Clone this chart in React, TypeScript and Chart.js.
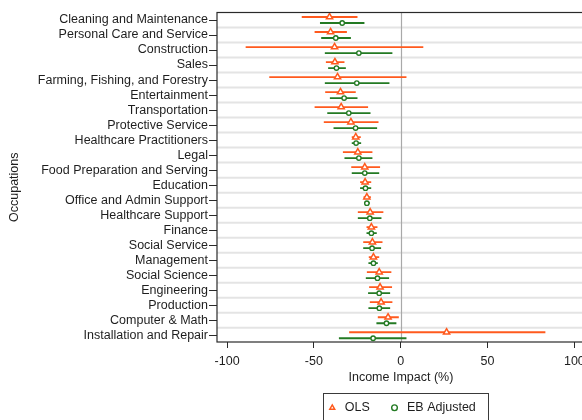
import { useEffect, useRef } from 'react';
import { Chart, registerables } from 'chart.js';

Chart.register(...registerables);

const categories = [
  'Cleaning and Maintenance',
  'Personal Care and Service',
  'Construction',
  'Sales',
  'Farming, Fishing, and Forestry',
  'Entertainment',
  'Transportation',
  'Protective Service',
  'Healthcare Practitioners',
  'Legal',
  'Food Preparation and Serving',
  'Education',
  'Office and Admin Support',
  'Healthcare Support',
  'Finance',
  'Social Service',
  'Management',
  'Social Science',
  'Engineering',
  'Production',
  'Computer & Math',
  'Installation and Repair',
];

const olsEst = [-41, -40.4, -38.1, -37.9, -36.4, -34.7, -34.3, -28.7, -25.9, -24.7, -20.7, -20.5, -19.5, -17.6, -16.9, -16.3, -15.7, -12.4, -11.9, -11.3, -7.3, 26.4];
const olsLow = [-57, -49.6, -89.3, -43.1, -75.7, -43.5, -49.6, -44.3, -28.2, -33.3, -28.5, -23.4, -21.4, -24.7, -19.7, -21.6, -18.4, -19.5, -18.2, -17.8, -13.2, -29.7];
const olsHigh = [-24.9, -31, 13, -32.4, 3.3, -25.9, -18.8, -12.8, -23, -16.3, -11.9, -17, -17.2, -10, -13.4, -10.5, -12.4, -5.4, -5, -4.8, -1.1, 83.3];

const ebEst = [-33.7, -37.4, -24.1, -37, -25.3, -32.6, -29.9, -26, -25.7, -24.1, -20.7, -20.3, -19.5, -17.8, -16.9, -16.5, -15.7, -13.4, -12.4, -12.3, -8.2, -15.9];
const ebLow = [-46.5, -45.8, -43.7, -41.8, -43.7, -40.8, -42.3, -38.7, -28.2, -32.4, -28.2, -23.4, -21.1, -24.7, -19.7, -21.6, -18.6, -20.1, -18.8, -18.6, -14, -35.6];
const ebHigh = [-20.9, -28.7, -4.8, -31.6, -6.5, -24.9, -17.4, -13.6, -22.8, -16.3, -12.4, -17, -17.8, -11.1, -13.8, -11.3, -13.2, -6.7, -6.1, -6.1, -2.5, 3.3];

const xTickValues = [-100, -50, 0, 50, 100];
const seriesNames = ['OLS', 'EB Adjusted'];
const xTitle = 'Income Impact (%)';
const yTitle = 'Occupations';

const ORANGE = '#ff5a1e';
const GREEN = '#237a23';
const TEXT = '#1e1e1e';
const FRAME = '#2a2a2a';
const GRID = '#e4e4e4';
const FONT = "'Liberation Sans', Arial, sans-serif";
const FS = 12.5;
const OFF = 0.2;

export default function App() {
  const ref = useRef<HTMLCanvasElement | null>(null);

  useEffect(() => {
    if (!ref.current) return;

    const errorBars = {
      id: 'errorBars',
      beforeDatasetsDraw(chart: any) {
        const { ctx, chartArea } = chart;
        const x = chart.scales.x;
        const y = chart.scales.y;
        ctx.save();
        ctx.beginPath();
        ctx.rect(chartArea.left, chartArea.top, chartArea.right - chartArea.left, chartArea.bottom - chartArea.top);
        ctx.clip();
        ctx.strokeStyle = GRID;
        ctx.lineWidth = 2;
        for (let i = 0; i < categories.length - 1; i++) {
          const py = y.getPixelForValue(i + 0.5);
          ctx.beginPath();
          ctx.moveTo(chartArea.left, py);
          ctx.lineTo(chartArea.right, py);
          ctx.stroke();
        }
        const zx = Math.round(x.getPixelForValue(0)) + 0.5;
        ctx.strokeStyle = '#a9a9a9';
        ctx.lineWidth = 1.2;
        ctx.beginPath();
        ctx.moveTo(zx, chartArea.top);
        ctx.lineTo(zx, chartArea.bottom);
        ctx.stroke();
        const series = [
          { low: olsLow, high: olsHigh, off: -OFF, color: ORANGE },
          { low: ebLow, high: ebHigh, off: OFF, color: GREEN },
        ];
        ctx.lineWidth = 1.8;
        series.forEach((s) => {
          ctx.strokeStyle = s.color;
          s.low.forEach((lo, i) => {
            const py = y.getPixelForValue(i + s.off);
            ctx.beginPath();
            ctx.moveTo(x.getPixelForValue(lo), py);
            ctx.lineTo(x.getPixelForValue(s.high[i]), py);
            ctx.stroke();
          });
        });
        ctx.restore();
      },
    };

    const frame = {
      id: 'frame',
      afterDraw(chart: any) {
        const { ctx, chartArea } = chart;
        ctx.save();
        ctx.strokeStyle = FRAME;
        ctx.lineWidth = 1.2;
        ctx.strokeRect(chartArea.left, chartArea.top, chartArea.right - chartArea.left, chartArea.bottom - chartArea.top);
        const hb = chart.legend && chart.legend.legendHitBoxes;
        if (hb && hb.length === 2) {
          const left = hb[0].left - 3;
          const right = hb[1].left + hb[1].width + 11.7;
          const top = hb[0].top - 8.75;
          ctx.lineWidth = 1;
          ctx.strokeStyle = '#3a3a3a';
          ctx.strokeRect(Math.round(left) + 0.5, Math.round(top) + 0.5, Math.round(right - left), 40);
        }
        // y axis title, centred on the figure's vertical middle as in the source
        ctx.fillStyle = TEXT;
        ctx.font = `${FS}px ${FONT}`;
        ctx.textAlign = 'center';
        ctx.textBaseline = 'middle';
        ctx.translate(15, (chartArea.top + chartArea.bottom) / 2 + 10);
        ctx.rotate(-Math.PI / 2);
        ctx.fillText(yTitle, 0, 0);
        ctx.restore();
      },
    };

    const chart = new Chart(ref.current, {
      type: 'scatter',
      data: {
        datasets: [
          {
            label: seriesNames[0],
            data: olsEst.map((v, i) => ({ x: v, y: i - OFF })),
            pointStyle: 'triangle',
            radius: 3.6,
            borderWidth: 1.5,
            borderColor: ORANGE,
            backgroundColor: '#ffffff',
            yAxisID: 'y',
          },
          {
            label: seriesNames[1],
            data: ebEst.map((v, i) => ({ x: v, y: i + OFF })),
            pointStyle: 'circle',
            radius: 2.2,
            borderWidth: 1.4,
            borderColor: GREEN,
            backgroundColor: '#ffffff',
            yAxisID: 'y',
          },
        ],
      },
      options: {
        responsive: false,
        animation: false,
        events: [],
        layout: { padding: { top: 12.5, left: 0, right: 35.2, bottom: 0 } },
        scales: {
          x: {
            type: 'linear',
            position: 'bottom',
            min: -105.8,
            max: 106,
            afterBuildTicks: (scale: any) => {
              scale.ticks = xTickValues.map((v) => ({ value: v }));
            },
            afterFit: (scale: any) => {
              scale.height = 41;
            },
            ticks: {
              font: { family: FONT, size: FS },
              color: TEXT,
              padding: 6,
              maxRotation: 0,
            },
            grid: {
              drawOnChartArea: false,
              color: FRAME,
              tickColor: FRAME,
              tickLength: 6,
              drawTicks: true,
            },
            border: { display: false },
            title: {
              display: true,
              text: xTitle,
              font: { family: FONT, size: FS },
              color: TEXT,
              padding: { top: 0, bottom: -2 },
            },
          },
          y: {
            type: 'linear',
            position: 'left',
            min: -0.5,
            max: 21.45,
            reverse: true,
            afterBuildTicks: (scale: any) => {
              scale.ticks = categories.map((_, i) => ({ value: i }));
            },
            afterFit: (scale: any) => {
              scale.width = 217;
            },
            ticks: {
              font: { family: FONT, size: FS },
              color: TEXT,
              padding: 1,
              autoSkip: false,
              callback: (v: any) => categories[Math.round(Number(v))],
            },
            grid: {
              drawOnChartArea: false,
              drawTicks: true,
              tickLength: 8,
              tickColor: FRAME,
              color: FRAME,
            },
            border: { display: false },
            title: { display: false },
          },
        },
        plugins: {
          tooltip: { enabled: false },
          legend: {
            display: true,
            position: 'bottom',
            fullSize: false,
            labels: {
              usePointStyle: true,
              boxWidth: 20,
              boxHeight: 4,
              padding: 18.5,
              color: TEXT,
              font: { family: FONT, size: FS },
            },
          },
        },
      },
      plugins: [errorBars, frame],
    } as any);

    return () => chart.destroy();
  }, []);

  return (
    <div
      style={{
        position: 'fixed',
        left: 0,
        top: 0,
        width: 582,
        height: 420,
        overflow: 'hidden',
        background: '#ffffff',
      }}
    >
      <canvas ref={ref} width={620} height={424} style={{ display: 'block', width: 620, height: 424 }} />
    </div>
  );
}
